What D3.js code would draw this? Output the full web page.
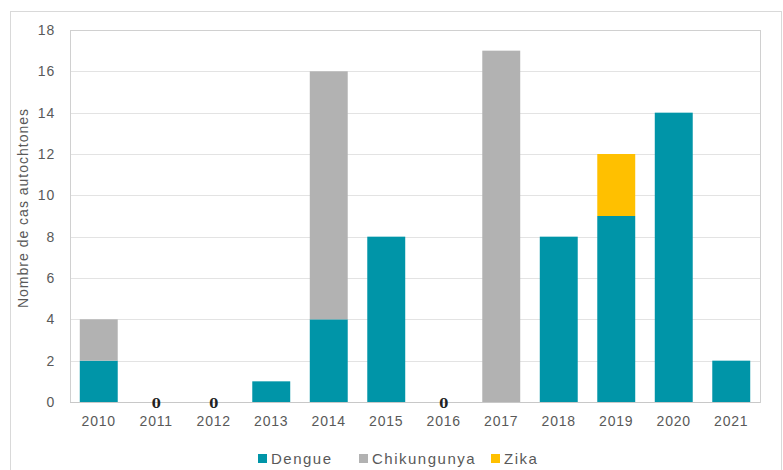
<!DOCTYPE html>
<html>
<head>
<meta charset="utf-8">
<script src="https://cdn.jsdelivr.net/npm/d3@7"></script>
<style>
  body { margin: 0; background: #fff; }
  text { font-family: "Liberation Sans", Arial, sans-serif; }
</style>
</head>
<body>
<svg width="783" height="470"></svg>
<script>
// donnees
var annees = ["2010","2011","2012","2013","2014","2015","2016","2017","2018","2019","2020","2021"];
var dengue = [2, 0, 0, 1, 4, 8, 0, 0, 8, 9, 14, 2];
var chikungunya = [2, 0, 0, 0, 12, 0, 0, 17, 0, 0, 0, 0];
var zika = [0, 0, 0, 0, 0, 0, 0, 0, 0, 3, 0, 0];
var series = ["Dengue", "Chikungunya", "Zika"];
var couleurs = ["#0095a8", "#b2b2b2", "#ffc000"];
var yTicks = [0, 2, 4, 6, 8, 10, 12, 14, 16, 18];

var svg = d3.select("svg"),
  marge = {left: 70, top: 30, right: 760, bottom: 402};

// cadre exterieur
svg.append("rect")
  .attr("x", 10.5).attr("y", 11.5)
  .attr("width", 771).attr("height", 470)
  .attr("fill", "none").attr("stroke", "#d9d9d9");

var x = d3.scaleBand().domain(annees).range([marge.left, marge.right]).paddingInner(0.34).paddingOuter(0.17);
var y = d3.scaleLinear().domain([0, 18]).range([marge.bottom, marge.top]);

// grille
svg.append("g").selectAll("line").data(yTicks).enter().append("line")
  .attr("x1", marge.left).attr("x2", marge.right)
  .attr("y1", function(d) { return Math.round(y(d)) + 0.5; })
  .attr("y2", function(d) { return Math.round(y(d)) + 0.5; })
  .attr("stroke", "#e3e3e3").attr("stroke-width", 1);

// bordure de la zone de trace
svg.append("rect")
  .attr("x", marge.left + 0.5).attr("y", marge.top + 0.5)
  .attr("width", marge.right - marge.left).attr("height", marge.bottom - marge.top)
  .attr("fill", "none").attr("stroke", "#d0d0d0");

var table = annees.map(function(a, i) {
  return {annee: a, Dengue: dengue[i], Chikungunya: chikungunya[i], Zika: zika[i]};
});
var pile = d3.stack().keys(series)(table);

svg.append("g").selectAll("g").data(pile).enter().append("g")
  .attr("fill", function(d, i) { return couleurs[i]; })
  .selectAll("rect").data(function(d) { return d; }).enter()
  .filter(function(d) { return d[1] > d[0]; })
  .append("rect")
  .attr("x", function(d) { return x(d.data.annee); })
  .attr("width", x.bandwidth())
  .attr("y", function(d) { return y(d[1]); })
  .attr("height", function(d) { return y(d[0]) - y(d[1]); });

// axe des abscisses
svg.append("line")
  .attr("x1", marge.left).attr("x2", marge.right)
  .attr("y1", marge.bottom + 0.5).attr("y2", marge.bottom + 0.5)
  .attr("stroke", "#c8c8c8");

// etiquettes zero
svg.append("g").selectAll("text").data(table.filter(function(d) {
    return d.Dengue + d.Chikungunya + d.Zika === 0;
  })).enter().append("text")
  .attr("x", function(d) { return x(d.annee) + x.bandwidth() / 2; })
  .attr("y", marge.bottom + 6)
  .attr("text-anchor", "middle")
  .style("font-family", "'DejaVu Serif', serif")
  .style("font-weight", "bold")
  .style("font-size", "13px")
  .attr("fill", "#222")
  .text("0");

var xAxe = d3.axisBottom(x).tickSize(0).tickPadding(14);
svg.append("g").attr("transform", "translate(0," + marge.bottom + ")").call(xAxe)
  .call(function(g) { g.select(".domain").remove(); })
  .selectAll("text").style("font-size", "14px").style("letter-spacing", "0.8px").attr("fill", "#595959")
  .style("font-family", "'Liberation Sans', Arial, sans-serif");

var yAxe = d3.axisLeft(y).tickValues(yTicks).tickSize(0).tickPadding(15);
svg.append("g").attr("transform", "translate(" + marge.left + ",0)").call(yAxe)
  .call(function(g) { g.select(".domain").remove(); })
  .selectAll("text").style("font-size", "14px").style("letter-spacing", "0.8px").attr("fill", "#595959")
  .style("font-family", "'Liberation Sans', Arial, sans-serif");

svg.append("text")
  .attr("transform", "translate(28," + 208 + ") rotate(-90)")
  .attr("text-anchor", "middle")
  .style("font-size", "14px").style("letter-spacing", "1px").attr("fill", "#595959")
  .text("Nombre de cas autochtones");

// legende
var legX = [258, 359, 491];
var leg = svg.append("g").selectAll("g").data(series).enter().append("g")
  .attr("transform", function(d, i) { return "translate(" + legX[i] + ",454)"; });
leg.append("rect").attr("width", 9).attr("height", 9).attr("y", 0)
  .attr("fill", function(d, i) { return couleurs[i]; });
leg.append("text").attr("x", 13).attr("y", 10)
  .style("font-size", "15px").style("letter-spacing", "1.5px").attr("fill", "#595959")
  .text(function(d) { return d; });
</script>
</body>
</html>
